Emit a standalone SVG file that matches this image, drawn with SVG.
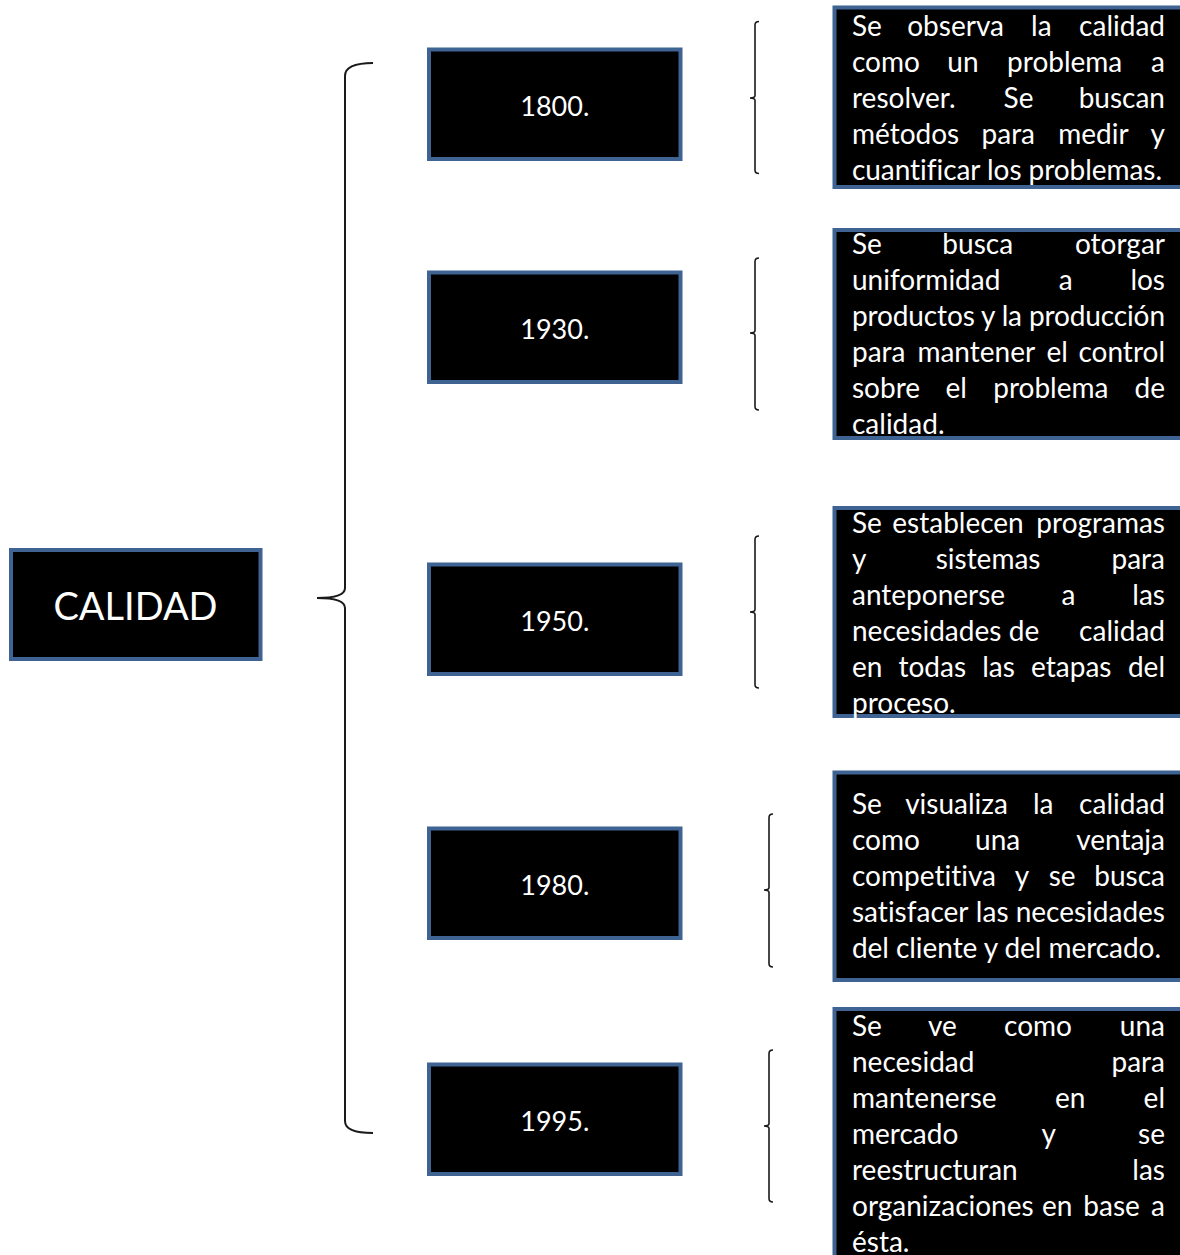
<svg xmlns="http://www.w3.org/2000/svg" width="1180" height="1255" viewBox="0 0 1180 1255">
<style>
.box{fill:#000;stroke:#3f6392;stroke-width:4}
.t{font-family:Lato,"Open Sans","Liberation Sans",sans-serif;fill:#fff;font-size:28px;font-variant-ligatures:none;font-feature-settings:"liga" 0}
.yr{font-size:27px;text-anchor:middle}
.m{text-anchor:middle}
.e{text-anchor:end}
.brace{fill:none;stroke:#1a1a1a;stroke-width:2}
.br{fill:none;stroke:#1a1a1a;stroke-width:1.6}
</style>
<rect width="1180" height="1255" fill="#fff"/>
<g id="connectors">
<path class="brace" d="M373,63 Q345,63 345,76 V588 C345,595 336,598 317,598 C336,598 345,601 345,608 V1121 Q345,1133 373,1133"/>
<path class="br" d="M759,21.5 Q755,21.5 755,25 V95.5 Q755,98 750,98 Q755,98 755,100.5 V170 Q755,173.5 759,173.5"/>
<path class="br" d="M759,258 Q755,258 755,261.5 V330.5 Q755,333 750,333 Q755,333 755,335.5 V406.5 Q755,410 759,410"/>
<path class="br" d="M759,536 Q755,536 755,539.5 V609.5 Q755,612 750,612 Q755,612 755,614.5 V684.5 Q755,688 759,688"/>
<path class="br" d="M773,814 Q769,814 769,817.5 V887.5 Q769,890 764,890 Q769,890 769,892.5 V963.5 Q769,967 773,967"/>
<path class="br" d="M773,1050 Q769,1050 769,1053.5 V1123.5 Q769,1126 764,1126 Q769,1126 769,1128.5 V1198.5 Q769,1202 773,1202"/>
</g>
<g id="calidad">
<rect class="box" x="11" y="550" width="249.5" height="109"/>
<text class="t" x="135.5" y="620" text-anchor="middle" style="font-size:38px">CALIDAD</text>
</g>
<g id="y1800">
<rect class="box" x="429" y="49.5" width="251.5" height="109.5"/>
<text class="t yr" x="554.8" y="115.5">1800.</text>
</g>
<g id="y1930">
<rect class="box" x="429" y="272.5" width="251.5" height="109.5"/>
<text class="t yr" x="554.8" y="338.5">1930.</text>
</g>
<g id="y1950">
<rect class="box" x="429" y="564.5" width="251.5" height="109.5"/>
<text class="t yr" x="554.8" y="630.5">1950.</text>
</g>
<g id="y1980">
<rect class="box" x="429" y="828.5" width="251.5" height="109.5"/>
<text class="t yr" x="554.8" y="894.5">1980.</text>
</g>
<g id="y1995">
<rect class="box" x="429" y="1064.5" width="251.5" height="109.5"/>
<text class="t yr" x="554.8" y="1130.5">1995.</text>
</g>
<g id="d1800">
<rect class="box" x="834.5" y="7.5" width="360" height="179.5"/>
<g class="t">
<text x="852" y="35.5">Se</text><text class="m" x="955.6" y="35.5">observa</text><text class="m" x="1041.3" y="35.5">la</text><text class="e" x="1165" y="35.5">calidad</text>
<text x="852" y="71.5">como</text><text class="m" x="962.9" y="71.5">un</text><text class="m" x="1064.7" y="71.5">problema</text><text class="e" x="1165" y="71.5">a</text>
<text x="852" y="107.5">resolver.</text><text class="m" x="1018.5" y="107.5">Se</text><text class="e" x="1165" y="107.5">buscan</text>
<text x="852" y="143.5">métodos</text><text class="m" x="1008.3" y="143.5">para</text><text class="m" x="1093.5" y="143.5">medir</text><text class="e" x="1165" y="143.5">y</text>
<text x="852" y="179.5" textLength="310" lengthAdjust="spacing">cuantificar los problemas.</text>
</g>
</g>
<g id="d1930">
<rect class="box" x="834.5" y="230" width="360" height="208"/>
<g class="t">
<text x="852" y="253.5">Se</text><text class="m" x="977.7" y="253.5">busca</text><text class="e" x="1165" y="253.5">otorgar</text>
<text x="852" y="289.6">uniformidad</text><text class="m" x="1065.8" y="289.6">a</text><text class="e" x="1165" y="289.6">los</text>
<text x="852" y="325.7" textLength="313" lengthAdjust="spacing">productos y la producción</text>
<text x="852" y="361.8">para</text><text class="m" x="976.3" y="361.8">mantener</text><text class="m" x="1057.2" y="361.8">el</text><text class="e" x="1165" y="361.8">control</text>
<text x="852" y="397.9">sobre</text><text class="m" x="956.2" y="397.9">el</text><text class="m" x="1050.8" y="397.9">problema</text><text class="e" x="1165" y="397.9">de</text>
<text x="852" y="434">calidad.</text>
</g>
</g>
<g id="d1950">
<rect class="box" x="834.5" y="508" width="360" height="208"/>
<g class="t">
<text x="852" y="532.5">Se</text><text class="m" x="958" y="532.5">establecen</text><text class="e" x="1165" y="532.5">programas</text>
<text x="852" y="568.5">y</text><text class="m" x="988.1" y="568.5">sistemas</text><text class="e" x="1165" y="568.5">para</text>
<text x="852" y="604.5">anteponerse</text><text class="m" x="1068.5" y="604.5">a</text><text class="e" x="1165" y="604.5">las</text>
<text x="852" y="640.5">necesidades</text><text class="m" x="1024" y="640.5">de</text><text class="e" x="1165" y="640.5">calidad</text>
<text x="852" y="676.5">en</text><text class="m" x="932.3" y="676.5">todas</text><text class="m" x="998.5" y="676.5">las</text><text class="m" x="1071.3" y="676.5">etapas</text><text class="e" x="1165" y="676.5">del</text>
<text x="852" y="712.5">proceso.</text>
</g>
</g>
<g id="d1980">
<rect class="box" x="834.5" y="772.5" width="360" height="207.5"/>
<g class="t">
<text x="852" y="814">Se</text><text class="m" x="956.5" y="814">visualiza</text><text class="m" x="1043.2" y="814">la</text><text class="e" x="1165" y="814">calidad</text>
<text x="852" y="850">como</text><text class="m" x="997.7" y="850">una</text><text class="e" x="1165" y="850">ventaja</text>
<text x="852" y="886">competitiva</text><text class="m" x="1022" y="886">y</text><text class="m" x="1062.2" y="886">se</text><text class="e" x="1165" y="886">busca</text>
<text x="852" y="922">satisfacer</text><text class="m" x="992.2" y="922">las</text><text class="e" x="1165" y="922">necesidades</text>
<text x="852" y="958" textLength="309" lengthAdjust="spacing">del cliente y del mercado.</text>
</g>
</g>
<g id="d1995">
<rect class="box" x="834.5" y="1009" width="360" height="260"/>
<g class="t">
<text x="852" y="1035.5">Se</text><text class="m" x="942.3" y="1035.5">ve</text><text class="m" x="1038" y="1035.5">como</text><text class="e" x="1165" y="1035.5">una</text>
<text x="852" y="1071.5">necesidad</text><text class="e" x="1165" y="1071.5">para</text>
<text x="852" y="1107.5">mantenerse</text><text class="m" x="1070.3" y="1107.5">en</text><text class="e" x="1165" y="1107.5">el</text>
<text x="852" y="1143.5">mercado</text><text class="m" x="1048.7" y="1143.5">y</text><text class="e" x="1165" y="1143.5">se</text>
<text x="852" y="1179.5">reestructuran</text><text class="e" x="1165" y="1179.5">las</text>
<text x="852" y="1215.5">organizaciones</text><text class="m" x="1057.3" y="1215.5">en</text><text class="m" x="1111.6" y="1215.5">base</text><text class="e" x="1165" y="1215.5">a</text>
<text x="852" y="1251.5">ésta.</text>
</g>
</g>
</svg>
